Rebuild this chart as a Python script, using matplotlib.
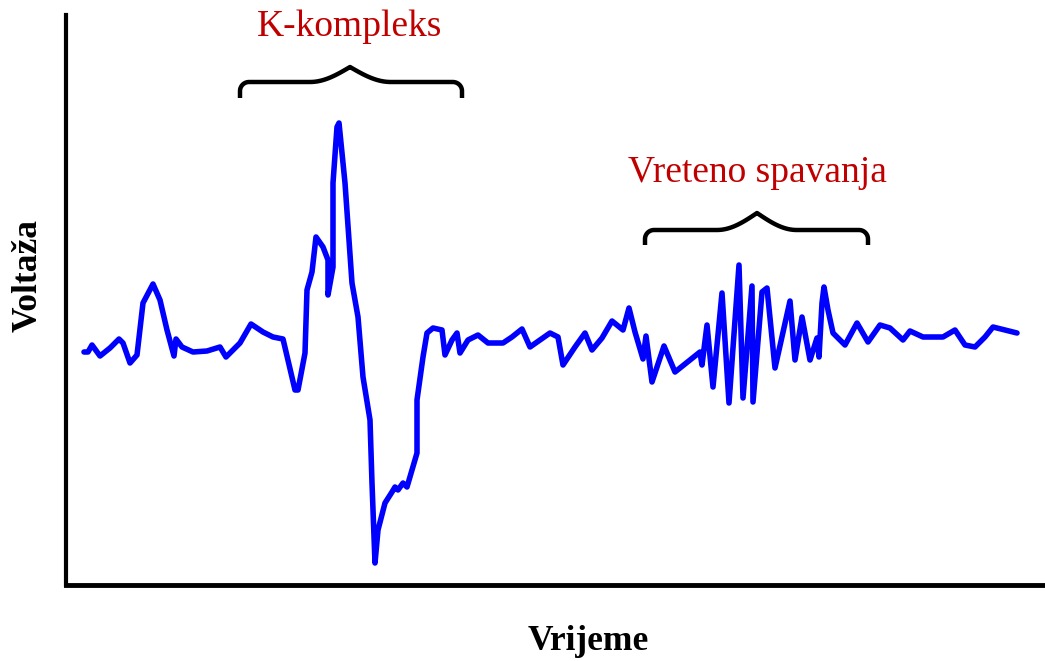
import matplotlib
matplotlib.use("Agg")
import matplotlib.pyplot as plt
import numpy as np

# signal, piece by piece (time, voltage; arbitrary units)
t_lead = [18, 22, 26, 34, 44, 53, 57, 64, 71, 77, 87, 94, 101, 108, 110, 116,
          127, 141, 154, 160, 174, 185, 197, 207, 217]
v_lead = [233, 233, 240, 229, 237, 246, 242, 222, 230, 282, 301, 285, 255,
          229, 246, 238, 233, 234, 238, 228, 242, 261, 253, 248, 246]

t_kc = [229, 232, 239, 241, 246, 250, 257, 262, 262, 267, 267, 271, 273, 279,
        286, 292, 297, 304, 306, 309, 312, 319, 326, 329, 332, 337, 341, 351,
        351, 357, 361, 367, 376, 379]
v_kc = [195, 195, 232, 295, 313, 348, 338, 325, 290, 318, 402, 458, 462, 402,
        302, 268, 208, 165, 102, 22, 55, 82, 93, 98, 95, 102, 98, 132, 185,
        228, 252, 257, 255, 230]

t_mid = [386, 391, 394, 402, 412, 422, 437, 446, 456, 464, 484, 492, 497, 509,
         519, 526, 536, 546, 557, 563, 569, 577, 580, 586, 598, 609, 634, 636]
v_mid = [245, 252, 232, 245, 250, 242, 242, 248, 256, 238, 252, 248, 220, 238,
         252, 235, 247, 264, 255, 277, 253, 226, 249, 203, 239, 213, 233, 220]

t_sp = [641, 647, 656, 663, 673, 677, 686, 687, 696, 701, 709, 724, 729, 736,
        744, 751, 753, 756, 758, 762]
v_sp = [260, 198, 292, 182, 320, 187, 299, 183, 293, 297, 217, 284, 225, 268,
        225, 247, 228, 282, 298, 275]

t_tail = [767, 779, 791, 802, 814, 824, 837, 844, 857, 877, 889, 899, 909,
          919, 927, 951]
v_tail = [252, 240, 262, 243, 260, 257, 245, 254, 248, 248, 255, 240, 238,
          248, 258, 252]

time = t_lead + t_kc + t_mid + t_sp + t_tail
voltage = v_lead + v_kc + v_mid + v_sp + v_tail

labels = ["K-kompleks", "Vreteno spavanja"]
red = "#c00000"


def brace(ax, x0, x1, xp, y_tip, y_bar, y_peak):
    r = 9
    w = 40
    a = np.linspace(np.pi, np.pi / 2, 12)
    lx = list(x0 + r + r * np.cos(a))
    ly = list(y_bar - r + r * np.sin(a))
    s = np.linspace(0, 1, 20)
    cx = list(xp - w + w * s)
    cy = list(y_bar + (y_peak - y_bar) * (1 - np.cos(np.pi / 2 * s)))
    xs = [x0] + lx + cx
    ys = [y_tip] + ly + cy
    # mirror onto the right half
    xr = [xp + (xp - v) for v in xs[::-1]]
    xr = [xp + (v - xp) * (x1 - xp) / (xp - x0) for v in xr]
    yr = ys[::-1]
    ax.plot(xs + xr, ys + yr, color="black", lw=3.2, clip_on=False,
            solid_joinstyle="round", solid_capstyle="butt")


fig = plt.figure(figsize=(10.45, 6.61), dpi=100)
ax = fig.add_axes([66 / 1045, 76 / 661, 979 / 1045, 570 / 661])
ax.plot(time, voltage, color="#0000ff", lw=4.0, solid_joinstyle="round",
        solid_capstyle="round")
ax.set_xlim(0, 979)
ax.set_ylim(0, 570)
ax.set_xticks([])
ax.set_yticks([])
for side in ["top", "right"]:
    ax.spines[side].set_visible(False)
ax.spines["left"].set_linewidth(3.0)
ax.spines["bottom"].set_linewidth(3.5)

brace(ax, 174, 396, 284, 487, 503, 518)
brace(ax, 579, 802, 691, 340, 355, 372)

ax.text(284, 558, labels[0], color=red, fontsize=27,
        family="Liberation Serif", ha="center", va="center")
ax.text(691, 412, labels[1], color=red, fontsize=27,
        family="Liberation Serif", ha="center", va="center")

fig.text(28 / 1045, 1 - 275 / 661, "Voltaža", rotation=90, fontsize=25.5,
         fontweight="bold", family="Liberation Serif", ha="center", va="center")
fig.text(588 / 1045, 1 - 641 / 661, "Vrijeme", fontsize=25.5,
         fontweight="bold", family="Liberation Serif", ha="center", va="center")

fig.savefig("out.png", dpi=100)
